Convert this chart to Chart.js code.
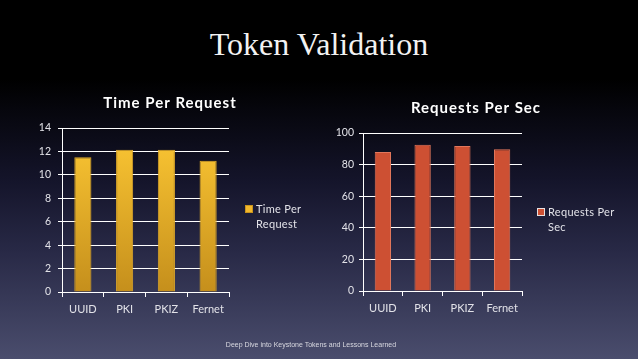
<!DOCTYPE html>
<html lang="en">
<head>
<meta charset="UTF-8">
<title>Token Validation</title>
<script src="https://cdn.jsdelivr.net/npm/chart.js@4.4.0/dist/chart.umd.min.js"></script>
<style>
  body {
    margin: 0;
    width: 638px;
    height: 359px;
    overflow: hidden;
    position: relative;
    background: linear-gradient(to bottom, #000 0%, #000 22%, #14142a 50%, #282946 70%, #4a4d6d 100%);
  }
  #slideTitle {
    position: absolute; left: 0; width: 638px; top: 28px;
    text-align: center; color: #f2f2f2;
    font: 32px/32px "Liberation Serif", serif;
  }
  #footer {
    position: absolute; left: 0; width: 622px; top: 341px;
    text-align: center; color: #d8d8e0;
    font: 7px/8px "Liberation Sans", Arial, sans-serif;
  }
  .box { position: absolute; top: 0; height: 359px; }
</style>
</head>
<body>
<div id="slideTitle">Token Validation</div>
<div class="box" style="left:0;width:320px"><canvas id="timeChart"></canvas></div>
<div class="box" style="left:320px;width:318px"><canvas id="rpsChart"></canvas></div>
<div id="footer">Deep Dive into Keystone Tokens and Lessons Learned</div>
<script>
const categories = ['UUID', 'PKI', 'PKIZ', 'Fernet'];
const timePerRequest = [11.5, 12.15, 12.15, 11.2];
const requestsPerSec = [88, 92.6, 91.8, 89.7];
const timeTicks = { max: 14, step: 2 };
const rpsTicks = { max: 100, step: 20 };

Chart.defaults.font.family = 'Lato, "Open Sans", sans-serif';
Chart.defaults.color = '#e2e2e8';

// title + wrapped legend, drawn next to the chart area
const sideText = {
  id: 'sideText',
  afterDraw(chart, args, o) {
    const ctx = chart.ctx, area = chart.chartArea;
    ctx.save();
    ctx.fillStyle = '#ffffff';
    ctx.font = 'bold 15px Lato, sans-serif';
    ctx.letterSpacing = '1px';
    ctx.textAlign = 'center';
    ctx.textBaseline = 'middle';
    ctx.fillText(o.title, o.titleX, o.titleY);

    const lx = area.right + o.legendDx, ly = o.legendY;
    ctx.fillStyle = o.swatch;
    ctx.fillRect(lx, ly - 4, 8, 8);
    ctx.strokeStyle = o.swatchBorder;
    ctx.lineWidth = 1;
    ctx.strokeRect(lx + 0.5, ly - 3.5, 7, 7);
    ctx.fillStyle = '#e2e2e8';
    ctx.font = '11px Lato, sans-serif';
    ctx.letterSpacing = '0.3px';
    ctx.textAlign = 'left';
    o.legendLines.forEach((line, i) => ctx.fillText(line, lx + 11, ly + i * 15));
    ctx.restore();
  }
};

function makeChart(id, data, label, ticks, fill, border, layout, side) {
  new Chart(document.getElementById(id), {
    type: 'bar',
    data: {
      labels: categories,
      datasets: [{
        label: label,
        data: data,
        backgroundColor: fill,
        borderColor: border,
        borderWidth: 1,
        barPercentage: 0.41,
        categoryPercentage: 1
      }]
    },
    options: {
      responsive: true,
      maintainAspectRatio: false,
      animation: false,
      layout: { padding: layout.padding },
      plugins: {
        legend: { display: false },
        title: { display: false },
        tooltip: { enabled: false },
        sideText: side
      },
      scales: {
        x: {
          afterFit: s => { s.height = 30; },
          grid: { offset: true, drawOnChartArea: false, color: '#ffffff', tickLength: 5 },
          border: { color: '#ffffff', width: 1 },
          ticks: { font: { size: 11 }, padding: 6 }
        },
        y: {
          min: 0, max: ticks.max,
          afterFit: s => { s.width = layout.yWidth; },
          grid: { color: '#ffffff', tickLength: 4 },
          border: { color: '#ffffff', width: 1 },
          ticks: { stepSize: ticks.step, font: { size: 10.5 }, padding: layout.tickPad }
        }
      }
    },
    plugins: [sideText]
  });
}

function goldFill(c) {
  const area = c.chart.chartArea;
  if (!area) return '#f0b52a';
  const g = c.chart.ctx.createLinearGradient(0, area.bottom, 0, area.top);
  g.addColorStop(0, '#c58f1c');
  g.addColorStop(1, '#fdc834');
  return g;
}

makeChart('timeChart', timePerRequest, 'Time Per Request', timeTicks, goldFill, '#e0a928',
  { padding: { left: 32, right: 91, top: 128, bottom: 37 }, yWidth: 30, tickPad: 7 },
  { title: 'Time Per Request', titleX: 170, titleY: 103, legendDx: 16, legendY: 209,
    legendLines: ['Time Per', 'Request'], swatch: '#f2b82c', swatchBorder: '#c8931e' });

makeChart('rpsChart', requestsPerSec, 'Requests Per Sec', rpsTicks, '#cd5033', '#e2775c',
  { padding: { left: 10, right: 116, top: 133, bottom: 38 }, yWidth: 33, tickPad: 5 },
  { title: 'Requests Per Sec', titleX: 156, titleY: 108, legendDx: 15, legendY: 212,
    legendLines: ['Requests Per', 'Sec'], swatch: '#cd5033', swatchBorder: '#e8e0e0' });
</script>
</body>
</html>
